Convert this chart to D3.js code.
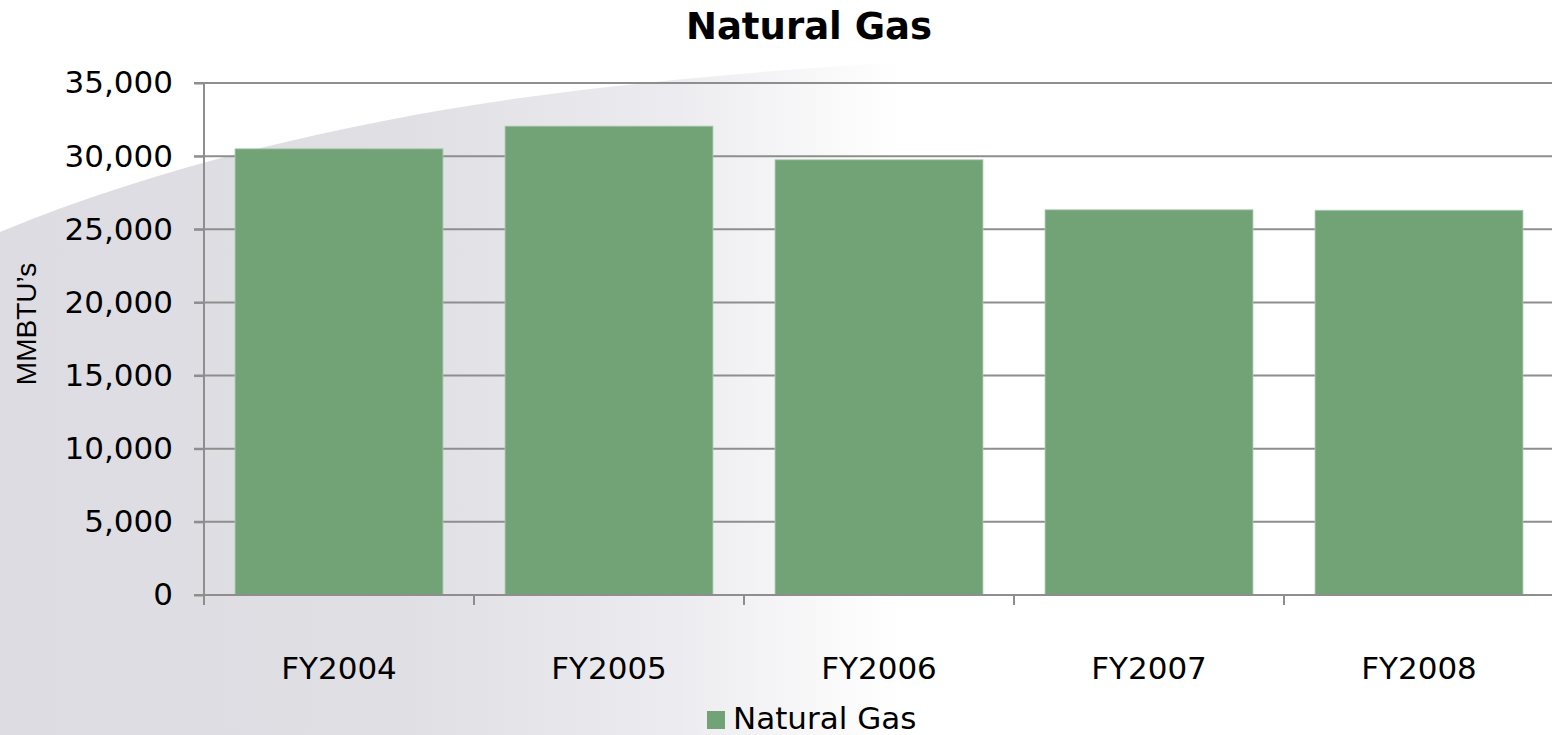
<!DOCTYPE html>
<html>
<head>
<meta charset="utf-8">
<script src="https://cdn.jsdelivr.net/npm/d3@7"></script>
<style>
  html, body { margin: 0; padding: 0; background: #ffffff; }
  svg { display: block; }
</style>
</head>
<body>
<svg id="chart" width="1552" height="735"></svg>
<script>
const categories = ["FY2004", "FY2005", "FY2006", "FY2007", "FY2008"];
const seriesName = "Natural Gas";
const values = [30500, 32050, 29750, 26330, 26300];
const yTickValues = [0, 5000, 10000, 15000, 20000, 25000, 30000, 35000];
const chartTitle = "Natural Gas";
const yAxisTitle = "MMBTU\u2019s";

(function () {
const W = 1552, H = 735;
const mLeft = 204, mRight = 1554, mTop = 83, mBottom = 595;
const barColor = "#72a377";
const gridColor = "#8e8e8e";
const font = "'DejaVu Sans', Verdana, sans-serif";

const svg = d3.select("#chart");

// background swoosh
const defs = svg.append("defs");
const grad = defs.append("linearGradient").attr("id", "bgGrad")
  .attr("x1", "0").attr("y1", "0").attr("x2", "1").attr("y2", "0");
grad.append("stop").attr("offset", "0").attr("stop-color", "#dddce2");
grad.append("stop").attr("offset", "0.45").attr("stop-color", "#e0dfe4");
grad.append("stop").attr("offset", "0.75").attr("stop-color", "#ecebef");
grad.append("stop").attr("offset", "0.92").attr("stop-color", "#f9f9fa");
grad.append("stop").attr("offset", "1").attr("stop-color", "#ffffff");
svg.append("path")
  .attr("d", "M0,232 C150,170 330,125 520,98 C650,80 780,70 900,62 L900,735 L0,735 Z")
  .attr("fill", "url(#bgGrad)");

const x = d3.scaleBand().domain(categories).range([mLeft, mRight]).paddingInner(0.23).paddingOuter(0.115);
const xSlot = d3.scaleBand().domain(categories).range([mLeft, mRight]).padding(0);
const y = d3.scaleLinear().domain([0, 35000]).range([mBottom, mTop]);

// gridlines
svg.append("g").selectAll("line").data(yTickValues).join("line")
  .attr("x1", mLeft - 10).attr("x2", W)
  .attr("y1", d => y(d)).attr("y2", d => y(d))
  .attr("stroke", gridColor).attr("stroke-width", 2);

// y axis
const yAxis = svg.append("g").attr("transform", `translate(${mLeft},0)`)
  .call(d3.axisLeft(y).tickValues(yTickValues).tickFormat(d3.format(",")).tickSize(10).tickPadding(21));
yAxis.select(".domain").attr("stroke", gridColor).attr("stroke-width", 2).attr("d", `M0,${mTop}V${mBottom + 10}`);
yAxis.selectAll(".tick line").attr("stroke", gridColor).attr("stroke-width", 2);
yAxis.selectAll(".tick text").attr("fill", "#000").style("font-family", font).style("font-size", "31px");

// bars
svg.append("g").selectAll("rect").data(values).join("rect")
  .attr("x", (d, i) => x(categories[i]))
  .attr("width", x.bandwidth())
  .attr("y", d => y(d))
  .attr("height", d => y(0) - y(d))
  .attr("fill", barColor)
  .attr("stroke", "#a9c9ad").attr("stroke-width", 0.8);

// x axis
const xAxis = svg.append("g").attr("transform", `translate(0,${mBottom})`)
  .call(d3.axisBottom(xSlot).tickSize(0).tickPadding(62));
xAxis.select(".domain").remove();
xAxis.selectAll(".tick text").attr("fill", "#000").style("font-family", font).style("font-size", "31px");
const boundaries = categories.map(c => xSlot(c)).concat([xSlot.range()[1]]);
svg.append("line").attr("x1", mLeft - 10).attr("x2", W).attr("y1", mBottom).attr("y2", mBottom)
  .attr("stroke", gridColor).attr("stroke-width", 2);
svg.append("g").selectAll("line").data(boundaries).join("line")
  .attr("x1", d => d).attr("x2", d => d).attr("y1", mBottom).attr("y2", mBottom + 10)
  .attr("stroke", gridColor).attr("stroke-width", 2);

// title
svg.append("text").attr("x", 809).attr("y", 39).attr("text-anchor", "middle")
  .style("font-family", font).style("font-size", "37px").style("font-weight", "bold")
  .attr("fill", "#000").text(chartTitle);

// y axis title
svg.append("text").attr("transform", "translate(36,324) rotate(-90)").attr("text-anchor", "middle")
  .style("font-family", "'Liberation Sans', Arial, sans-serif").style("font-size", "28px")
  .attr("fill", "#000").text(yAxisTitle);

// legend
const lg = svg.append("g");
lg.append("rect").attr("x", 707).attr("y", 711).attr("width", 18).attr("height", 18).attr("fill", barColor);
lg.append("text").attr("x", 733).attr("y", 729)
  .style("font-family", font).style("font-size", "31px").attr("fill", "#000").text(seriesName);
})();
</script>
</body>
</html>
